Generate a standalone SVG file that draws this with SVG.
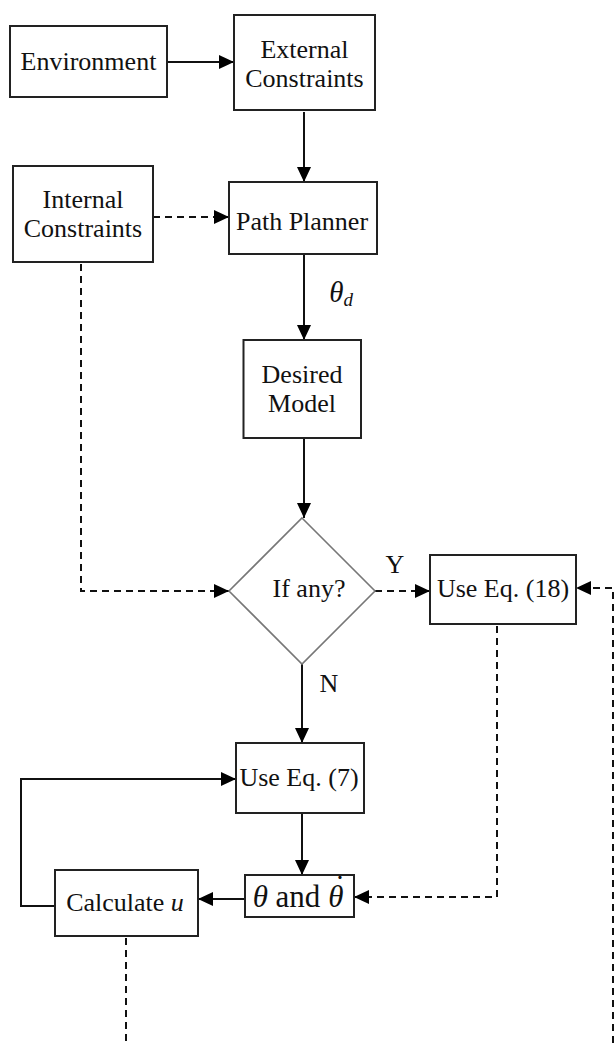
<svg xmlns="http://www.w3.org/2000/svg" width="614" height="1043" viewBox="0 0 614 1043">
<style>
.box{fill:#fff;stroke:#222;stroke-width:2}
.dia{fill:#fff;stroke:#777;stroke-width:1.6}
.t{font-family:"Liberation Serif","Times New Roman",serif;font-size:26px;fill:#111;text-anchor:middle}
.i{font-style:italic}
.ln{fill:none;stroke:#111;stroke-width:2}
.ds{fill:none;stroke:#111;stroke-width:2;stroke-dasharray:7,5}
</style>
<defs>
<marker id="ah" markerWidth="15" markerHeight="14" refX="15" refY="7" orient="auto" markerUnits="userSpaceOnUse"><path d="M0,0 L15,7 L0,14 z" fill="#000"/></marker>
</defs>
<rect width="614" height="1043" fill="#fff"/>
<g id="connectors">
<path class="ln" d="M167,62 H234" marker-end="url(#ah)"/>
<path class="ln" d="M304,112 V182" marker-end="url(#ah)"/>
<path class="ds" d="M153,217 H229" marker-end="url(#ah)"/>
<path class="ln" d="M304,254 V340" marker-end="url(#ah)"/>
<path class="ln" d="M304,438 V518" marker-end="url(#ah)"/>
<path class="ds" d="M81,264 V591 H229" marker-end="url(#ah)"/>
<path class="ds" d="M375,591 H430" marker-end="url(#ah)"/>
<path class="ds" d="M613,1043 V588 H576" marker-end="url(#ah)"/>
<path class="ln" d="M302,664 V743" marker-end="url(#ah)"/>
<path class="ds" d="M497,626 V897 H354" marker-end="url(#ah)"/>
<path class="ln" d="M302,813 V875" marker-end="url(#ah)"/>
<path class="ln" d="M245,899 H198" marker-end="url(#ah)"/>
<path class="ln" d="M55,906 H21 V779 H236" marker-end="url(#ah)"/>
<path class="ds" d="M126,938 V1043"/>
<text class="t" x="341" y="302" style="font-size:29px"><tspan class="i">θ</tspan><tspan class="i" style="font-size:19px" dy="4">d</tspan></text>
<text class="t" x="395" y="573">Y</text>
<text class="t" x="329" y="692">N</text>
</g>
<g id="environment"><rect class="box" x="10" y="26" width="157" height="71"/><text class="t" x="88.5" y="70">Environment</text></g>
<g id="external"><rect class="box" x="234" y="15" width="141" height="95"/><text class="t" x="304.5" y="58">External</text><text class="t" x="304.5" y="87">Constraints</text></g>
<g id="internal"><rect class="box" x="13" y="166" width="140" height="96"/><text class="t" x="83" y="208">Internal</text><text class="t" x="83" y="237">Constraints</text></g>
<g id="pathplanner"><rect class="box" x="229" y="182" width="148" height="72"/><text class="t" x="302" y="230">Path Planner</text></g>
<g id="desired"><rect class="box" x="243.5" y="340" width="117.5" height="98"/><text class="t" x="302" y="383">Desired</text><text class="t" x="302" y="412">Model</text></g>
<g id="ifany"><polygon class="dia" points="302,518 375,591 302,664 229,591"/><text class="t" x="309" y="597">If any?</text></g>
<g id="useeq18"><rect class="box" x="430" y="555" width="146" height="69"/><text class="t" x="503" y="597">Use Eq. (18)</text></g>
<g id="useeq7"><rect class="box" x="236" y="743" width="128" height="70"/><text class="t" x="299" y="786">Use Eq. (7)</text></g>
<g id="theta"><rect class="box" x="245" y="875" width="109" height="42"/><text class="t" x="298" y="907" style="font-size:31px"><tspan class="i">θ</tspan> and <tspan class="i">θ</tspan><tspan x="340" y="897">˙</tspan></text></g>
<g id="calcu"><rect class="box" x="55" y="870" width="143" height="66"/><text class="t" x="125" y="911">Calculate <tspan class="i">u</tspan></text></g>
</svg>
